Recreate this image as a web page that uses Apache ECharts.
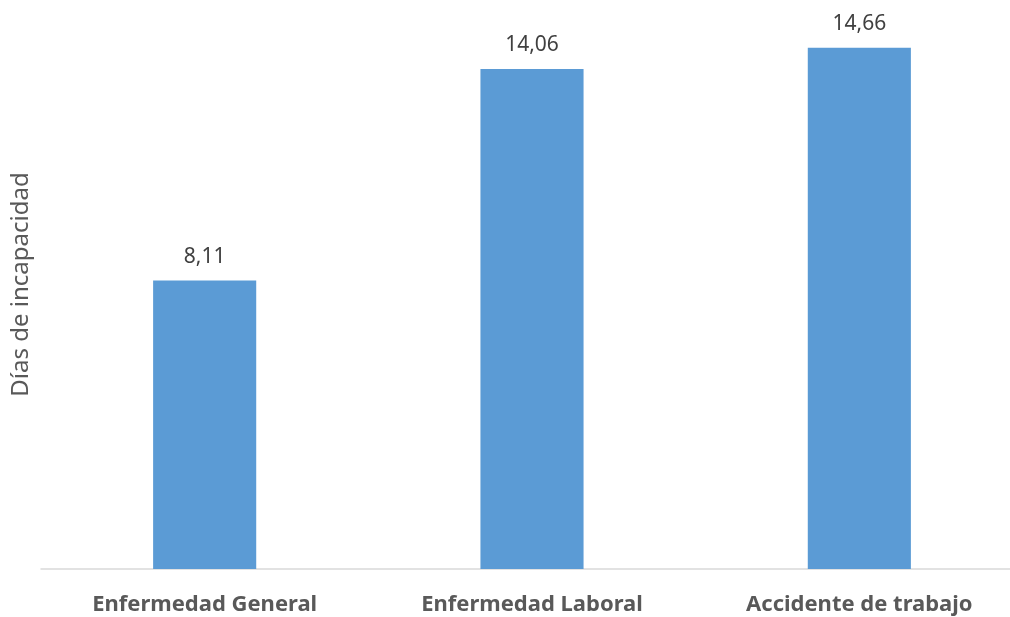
<!DOCTYPE html>
<html>
<head>
<meta charset="utf-8">
<script src="https://cdn.jsdelivr.net/npm/echarts@6/dist/echarts.min.js"></script>
<style>
  html, body { margin: 0; padding: 0; background: #ffffff; }
  #chart { width: 1010px; height: 617px; }
</style>
</head>
<body>
<div id="chart"></div>
<script>
// Average days of sick leave by cause
const categories = ['Enfermedad General', 'Enfermedad Laboral', 'Accidente de trabajo'];
const diasIncapacidad = [8.11, 14.06, 14.66];
const yAxisName = 'Días de incapacidad';

const chart = echarts.init(document.getElementById('chart'));
const fontFamily = '"Noto Sans", "Open Sans", sans-serif';

chart.setOption({
  animation: false,
  backgroundColor: '#ffffff',
  grid: { left: 41, right: -13, top: 0, bottom: 48, containLabel: false, outerBoundsMode: 'none' },
  xAxis: {
    type: 'category',
    data: categories,
    axisLine: { show: true, lineStyle: { color: '#d9d9d9', width: 1.5 } },
    axisTick: { show: false },
    axisLabel: {
      color: '#595959',
      fontFamily: fontFamily,
      fontWeight: 'bold',
      fontSize: 22,
      margin: 25
    }
  },
  yAxis: {
    type: 'value',
    min: 0,
    max: 16,
    name: yAxisName,
    nameLocation: 'middle',
    nameGap: 8,
    nameTextStyle: { color: '#595959', fontFamily: fontFamily, fontSize: 24 },
    axisLine: { show: false },
    axisTick: { show: false },
    axisLabel: { show: false },
    splitLine: { show: false }
  },
  series: [{
    type: 'bar',
    data: diasIncapacidad,
    barWidth: '31.5%',
    itemStyle: { color: '#5b9bd5' },
    label: {
      show: true,
      position: 'top',
      distance: 13,
      color: '#404040',
      fontFamily: fontFamily,
      fontSize: 21,
      formatter: p => p.value.toFixed(2).replace('.', ',')
    }
  }]
});
</script>
</body>
</html>
